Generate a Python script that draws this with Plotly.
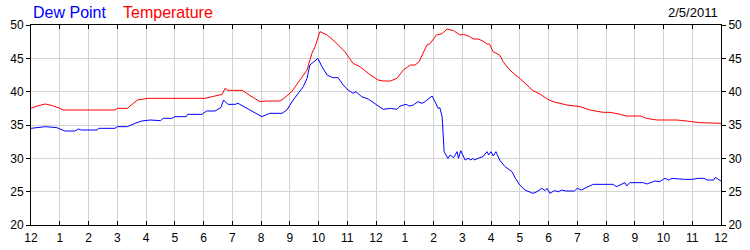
import plotly.graph_objects as go

# Hours since midnight (0..24) and readings
temp_hours = [0, 0.25, 0.5, 0.75, 1.0, 1.12, 2.92, 3.0, 3.35, 3.7, 4.07, 4.4, 4.5, 4.6, 6.05, 6.3,
              6.65, 6.75, 6.85, 7.35, 7.62, 7.97, 8.2, 8.66, 8.77, 9.07, 9.36, 9.6, 9.77, 9.88,
              10.05, 10.3, 10.57, 10.92, 11.2, 11.44, 11.73, 12.07, 12.25, 12.5, 12.73, 12.95,
              13.2, 13.36, 13.5, 13.64, 13.77, 13.88, 14.1, 14.3, 14.47, 14.7, 14.92, 15.05,
              15.26, 15.38, 15.55, 15.72, 15.86, 15.95, 16.07, 16.3, 16.42, 16.6, 16.78, 17.0,
              17.23, 17.46, 17.7, 17.98, 18.16, 18.4, 18.64, 19.1, 19.44, 19.9, 20.14, 20.5,
              20.7, 21.2, 21.4, 21.77, 22.47, 22.8, 23.27, 24.0]
temperature = [37.5, 37.9, 38.15, 37.9, 37.5, 37.25, 37.25, 37.5, 37.5, 38.75, 39.0, 39.0, 38.9,
               39.0, 39.0, 39.25, 39.6, 40.5, 40.2, 40.2, 39.4, 38.5, 38.6, 38.6, 38.9, 40.0,
               41.75, 43.25, 45.75, 46.75, 49.0, 48.5, 47.5, 46.0, 44.25, 43.75, 42.75, 41.75,
               41.6, 41.6, 42.0, 43.25, 44.0, 44.0, 44.5, 45.75, 47.0, 47.2, 48.5, 48.7, 49.4,
               49.15, 48.5, 48.6, 48.25, 47.9, 47.9, 47.6, 47.15, 47.15, 46.0, 45.5, 44.5, 43.5,
               42.75, 42.0, 41.0, 40.15, 39.65, 38.85, 38.5, 38.25, 38.0, 37.75, 37.25, 36.9,
               36.9, 36.6, 36.35, 36.35, 36.0, 35.75, 35.75, 35.6, 35.35, 35.25]

dew_hours = [0, 0.5, 0.9, 1.07, 1.18, 1.53, 1.65, 1.75, 2.3, 2.35, 2.92, 3.0, 3.35, 3.62, 3.85,
             4.15, 4.45, 4.5, 4.6, 4.9, 5.0, 5.4, 5.45, 5.95, 6.1, 6.4, 6.6, 6.7, 6.85, 7.1, 7.2,
             7.62, 8.03, 8.3, 8.73, 8.9, 9.12, 9.47, 9.6, 9.7, 9.85, 9.98, 10.12, 10.3, 10.5,
             10.68, 10.86, 11.03, 11.2, 11.3, 11.5, 11.73, 12.03, 12.25, 12.5, 12.73, 12.84,
             13.05, 13.15, 13.3, 13.46, 13.6, 13.7, 13.85, 13.95, 14.08, 14.16, 14.22, 14.3,
             14.37, 14.4, 14.5, 14.58, 14.7, 14.82, 14.87, 14.95, 15.1, 15.2, 15.3, 15.37,
             15.42, 15.6, 15.72, 15.86, 15.92, 16.0, 16.08, 16.17, 16.3, 16.49, 16.73, 16.85,
             17.0, 17.18, 17.3, 17.46, 17.6, 17.77, 17.88, 17.95, 18.05, 18.2, 18.35, 18.45,
             18.6, 18.9, 19.0, 19.15, 19.3, 19.56, 20.25, 20.36, 20.66, 20.72, 20.83, 21.3,
             21.42, 21.7, 21.87, 22.05, 22.17, 22.3, 22.7, 23.0, 23.2, 23.4, 23.52, 23.75, 23.8,
             24.0]
dew_point = [34.5, 34.75, 34.6, 34.25, 34.1, 34.1, 34.4, 34.25, 34.25, 34.5, 34.5, 34.75, 34.75,
             35.25, 35.6, 35.75, 35.75, 35.65, 36.0, 36.0, 36.25, 36.25, 36.6, 36.6, 37.1, 37.1,
             37.6, 38.75, 38.1, 38.1, 38.25, 37.25, 36.25, 36.75, 36.75, 37.25, 38.75, 40.75,
             42.0, 44.0, 44.5, 45.0, 43.75, 42.5, 42.1, 42.1, 41.0, 40.25, 39.75, 40.0, 39.25,
             38.9, 38.0, 37.35, 37.5, 37.35, 37.85, 38.1, 37.85, 38.0, 38.5, 38.25, 38.5, 39.0,
             39.35, 38.25, 37.5, 37.6, 36.25, 31.0, 30.75, 30.0, 30.5, 30.1, 31.0, 30.0, 31.15,
             29.75, 30.0, 29.75, 30.0, 29.75, 30.1, 30.25, 31.0, 30.5, 31.0, 30.35, 31.0, 29.75,
             28.75, 28.0, 27.0, 26.0, 25.25, 25.0, 24.75, 25.0, 25.5, 25.15, 25.5, 24.75, 25.15,
             25.0, 25.25, 25.1, 25.1, 25.5, 25.25, 25.6, 26.1, 26.1, 25.75, 26.35, 25.85, 26.35,
             26.35, 26.15, 26.6, 26.5, 27.0, 26.75, 27.0, 26.85, 26.85, 27.0, 27.0, 26.75, 26.75,
             27.15, 26.6]

hour_ticks = list(range(25))
hour_labels = ["12"] + [str(h) for h in range(1, 12)] + ["12"] + [str(h) for h in range(1, 12)] + ["12"]
y_ticks = [20, 25, 30, 35, 40, 45, 50]
date_label = "2/5/2011"

FONT = "Liberation Sans, Arial, sans-serif"

fig = go.Figure()
fig.add_trace(go.Scatter(x=temp_hours, y=temperature, mode="lines", name="Temperature",
                         line=dict(color="#FF0000", width=1)))
fig.add_trace(go.Scatter(x=dew_hours, y=dew_point, mode="lines", name="Dew Point",
                         line=dict(color="#0000FF", width=1)))

fig.update_layout(
    width=750, height=250,
    margin=dict(l=31, r=29, t=25, b=25),
    paper_bgcolor="white", plot_bgcolor="white",
    showlegend=False,
    font=dict(family=FONT, size=12, color="black"),
    xaxis=dict(range=[0, 24], tickmode="array", tickvals=hour_ticks, ticktext=hour_labels,
               showgrid=True, gridcolor="#D3D3D3", gridwidth=1,
               showline=True, linecolor="black", linewidth=1, mirror="ticks",
               ticks="inside", ticklen=4, tickcolor="black", zeroline=False,
               ticklabelstandoff=2, automargin=False,
               tickfont=dict(family=FONT, size=12, color="black")),
    yaxis=dict(range=[20, 50], tickmode="array", tickvals=y_ticks,
               showgrid=True, gridcolor="#D3D3D3", gridwidth=1,
               showline=True, linecolor="black", linewidth=1, mirror="ticks",
               ticks="outside", ticklen=4, tickcolor="black", zeroline=False,
               automargin=False,
               tickfont=dict(family=FONT, size=12, color="black")),
    yaxis2=dict(range=[20, 50], tickmode="array", tickvals=y_ticks, overlaying="y", side="right",
                showgrid=False, showline=True, linecolor="black", linewidth=1,
                ticks="outside", ticklen=4, tickcolor="black", zeroline=False,
                automargin=False,
                tickfont=dict(family=FONT, size=12, color="black")),
    annotations=[
        dict(text="Dew Point", x=31, y=12, xref="paper", yref="paper", showarrow=False,
             font=dict(family=FONT, size=16, color="#0000FF"), xanchor="left", yanchor="middle"),
        dict(text="Temperature", x=121, y=12, xref="paper", yref="paper", showarrow=False,
             font=dict(family=FONT, size=16, color="#FF0000"), xanchor="left", yanchor="middle"),
        dict(text=date_label, x=720, y=12, xref="paper", yref="paper", showarrow=False,
             font=dict(family=FONT, size=13, color="black"), xanchor="right", yanchor="middle"),
    ],
)
# convert pixel positions of header text to paper coordinates
pw, ph = 750 - 31 - 29, 250 - 25 - 25
for a in fig.layout.annotations:
    a.x = (a.x - 31) / pw
    a.y = 1 + (25 - a.y) / ph

# invisible trace on right axis so it renders
fig.add_trace(go.Scatter(x=[0], y=[20], yaxis="y2", mode="markers", marker=dict(opacity=0),
                         hoverinfo="skip", showlegend=False))

fig.write_html("out.html")
